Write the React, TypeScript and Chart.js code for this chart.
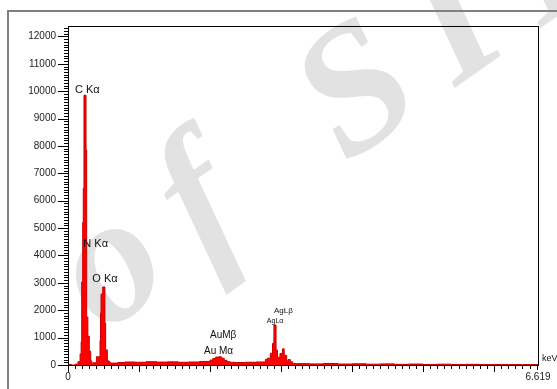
import React, { useEffect, useRef } from "react";
import { Chart, registerables } from "chart.js";

Chart.register(...registerables);

// Spectrum (stepped): channel start energy (keV) and counts
const energyKeV = [
  0.0, 0.005, 0.05, 0.1, 0.14, 0.17, 0.185, 0.193, 0.207, 0.215, 0.225, 0.254, 0.263,
  0.28, 0.3, 0.32, 0.335, 0.35, 0.4, 0.451, 0.458, 0.465, 0.489, 0.52, 0.53, 0.554,
  0.582, 0.6, 0.7, 0.8, 0.95, 1.1, 1.25, 1.4, 1.55, 1.7, 1.85, 2.0, 2.04, 2.08, 2.12,
  2.16, 2.2, 2.24, 2.28, 2.35, 2.5, 2.65, 2.78, 2.81, 2.85, 2.88, 2.9, 2.93, 2.95,
  2.985, 3.02, 3.045, 3.08, 3.1, 3.13, 3.16, 3.2, 3.4, 3.6, 3.8, 4.0, 4.2, 4.4, 4.6,
  4.8, 5.0, 5.2, 5.4, 5.6, 5.8, 6.0, 6.2, 6.4, 6.619,
];
const counts = [
  0, 60, 20, 0, 30, 120, 400, 850, 3030, 5200, 6450, 9850, 7850,
  1750, 1050, 500, 150, 60, 80, 300, 900, 1900, 2590, 2850, 1530, 550,
  150, 90, 70, 90, 110, 100, 120, 105, 115, 100, 110, 130, 180, 240, 290,
  300, 250, 170, 120, 100, 90, 100, 110, 210, 250, 430, 790, 1460, 550,
  280, 420, 590, 350, 150, 200, 120, 60, 50, 40, 55, 35, 45, 30, 40,
  25, 35, 20, 30, 20, 25, 15, 20, 15, 15,
];

// Peak annotations
const peakNames = ["C K\u03b1", "N K\u03b1", "O K\u03b1", "AuM\u03b2", "Au M\u03b1", "AgL\u03b2", "AgL\u03b1"];
const peakLabelKeV = [0.099, 0.216, 0.343, 2.0, 1.915, 2.9, 2.8];
const peakLabelCounts = [10040, 4420, 3140, 1095, 510, 1970, 1620];
const peakLabelSize = [11, 11, 11, 10, 10, 8, 7];

// Axis ticks
const xTickLabels = [0, 6.619];
const yMajorStep = 1000;
const yMinorStep = 100;
const xMajorStep = 1;
const xMinorStep = 0.1;
const xMax = 6.619;
const yMax = 12380;

const watermarkText = "e of SIL";

const FONT = '"Liberation Sans", Arial, sans-serif';

export default function App() {
  const ref = useRef<HTMLCanvasElement | null>(null);

  useEffect(() => {
    document.body.style.margin = "0";
    const canvas = ref.current;
    if (!canvas) return;

    const decor = {
      id: "decor",
      beforeDraw(chart: any) {
        const ctx = chart.ctx;
        ctx.save();
        ctx.fillStyle = "#ffffff";
        ctx.fillRect(0, 0, chart.width, chart.height);
        // watermark
        ctx.save();
        ctx.translate(-55, 445);
        ctx.rotate((-35 * Math.PI) / 180);
        ctx.fillStyle = "#e2e2e2";
        ctx.font = 'italic bold 180px "Liberation Serif", serif';
        (ctx as any).letterSpacing = "34px";
        ctx.textBaseline = "alphabetic";
        ctx.fillText(watermarkText, 0, 0);
        ctx.restore();
        // outer frame
        ctx.strokeStyle = "#808080";
        ctx.lineWidth = 2;
        ctx.beginPath();
        ctx.moveTo(8, chart.height + 2);
        ctx.lineTo(8, 11);
        ctx.lineTo(chart.width + 2, 11);
        ctx.stroke();
        ctx.restore();
      },
      afterDraw(chart: any) {
        const ctx = chart.ctx;
        const a = chart.chartArea;
        const xs = chart.scales.x;
        const ys = chart.scales.y;
        ctx.save();
        // plot box
        ctx.strokeStyle = "#000";
        ctx.lineWidth = 1;
        ctx.strokeRect(a.left + 0.5, a.top + 0.5, a.right - a.left, a.bottom - a.top);
        // y ticks
        ctx.beginPath();
        for (let v = 0; v <= yMax; v += yMinorStep) {
          const y = Math.round(ys.getPixelForValue(v)) + 0.5;
          const major = v % yMajorStep === 0;
          ctx.moveTo(a.left - (major ? 10 : 4), y);
          ctx.lineTo(a.left, y);
        }
        // x ticks
        for (let i = 0; i * xMinorStep <= xMax + 1e-9; i++) {
          const v = i * xMinorStep;
          const x = Math.round(xs.getPixelForValue(v)) + 0.5;
          const major = i % Math.round(xMajorStep / xMinorStep) === 0;
          ctx.moveTo(x, a.bottom);
          ctx.lineTo(x, a.bottom + (major ? 7 : 4));
        }
        const xe = Math.round(xs.getPixelForValue(xMax)) - 0.5;
        ctx.moveTo(xe, a.bottom);
        ctx.lineTo(xe, a.bottom + 5);
        ctx.stroke();
        // peak labels
        ctx.fillStyle = "#111";
        ctx.textAlign = "left";
        ctx.textBaseline = "middle";
        peakNames.forEach((name, i) => {
          ctx.font = `${peakLabelSize[i]}px ${FONT}`;
          ctx.fillText(name, xs.getPixelForValue(peakLabelKeV[i]), ys.getPixelForValue(peakLabelCounts[i]));
        });
        // unit
        ctx.font = `9px ${FONT}`;
        ctx.fillText("keV", a.right + 4, a.bottom - 6);
        ctx.restore();
      },
    };

    const chart = new Chart(canvas, {
      type: "line",
      data: {
        datasets: [
          {
            data: energyKeV.map((e, i) => ({ x: e, y: counts[i] })),
            stepped: "after",
            fill: "origin",
            backgroundColor: "rgb(255,0,0)",
            borderColor: "rgb(200,0,0)",
            borderWidth: 1,
            pointRadius: 0,
          },
        ],
      },
      options: {
        responsive: false,
        devicePixelRatio: 1,
        animation: false,
        layout: { padding: { left: 0, top: 26, right: 19, bottom: 0 } },
        plugins: { legend: { display: false }, tooltip: { enabled: false } },
        scales: {
          x: {
            type: "linear",
            min: 0,
            max: xMax,
            grid: { display: false, drawTicks: false },
            border: { display: true, color: "#000", width: 1 },
            afterBuildTicks: (s: any) => {
              s.ticks = xTickLabels.map((v) => ({ value: v }));
            },
            afterFit: (s: any) => {
              s.height = 24;
            },
            ticks: {
              autoSkip: false,
              maxRotation: 0,
              padding: 6,
              color: "#222",
              font: { family: FONT, size: 10 },
              callback: (v: any) => String(v),
            },
          },
          y: {
            min: 0,
            max: yMax,
            grid: { display: false, drawTicks: false },
            border: { display: true, color: "#000", width: 1 },
            afterBuildTicks: (s: any) => {
              const t = [];
              for (let v = 0; v <= yMax; v += yMajorStep) t.push({ value: v });
              s.ticks = t;
            },
            afterFit: (s: any) => {
              s.width = 68;
            },
            ticks: {
              padding: 12,
              color: "#222",
              font: { family: FONT, size: 10 },
              callback: (v: any) => String(v),
            },
          },
        },
      },
      plugins: [decor],
    });
    return () => chart.destroy();
  }, []);

  return <canvas ref={ref} width={557} height={389} style={{ display: "block", width: 557, height: 389 }} />;
}
